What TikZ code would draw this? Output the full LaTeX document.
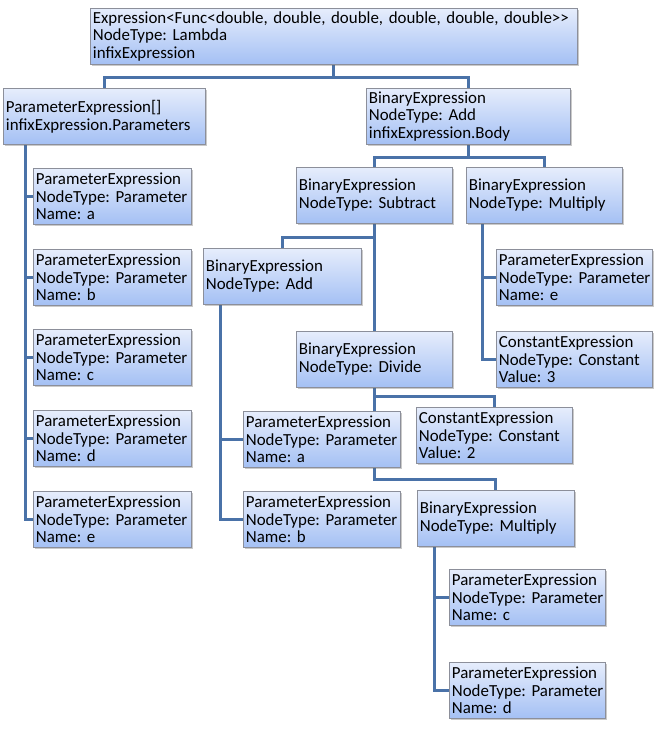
\documentclass[tikz,border=0pt]{standalone}
\usepackage{fontspec}
\setmainfont{Carlito}
\usepackage{xcolor}
\usepackage{tikz}
\usetikzlibrary{shadows, backgrounds}
\definecolor{boxtop}{HTML}{E6EDFC}
\definecolor{boxbottom}{HTML}{A4C0F4}
\definecolor{boxline}{HTML}{8C8F9A}
\definecolor{connblue}{HTML}{4A72A8}
\tikzstyle{exprbox} = [anchor=north west, draw=boxline, line width=0.8pt, top color=boxtop, bottom color=boxbottom,
    drop shadow={shadow xshift=2pt, shadow yshift=-2pt, opacity=0.35, fill=black!60},
    inner xsep=2.5pt, inner ysep=0pt, minimum height=56pt, align=left,
    font=\fontsize{16.9}{17.8}\selectfont]
\tikzstyle{conn} = [draw=connblue, line width=3pt]
\frenchspacing
\hyphenpenalty=10000
\exhyphenpenalty=10000
\hbadness=10000
\hfuzz=20pt

\begin{document}
\begin{tikzpicture}[line cap=butt,line join=miter,x=1pt,y=-1pt]
    \useasboundingbox (0,0) rectangle (658,731);
    % top levels
    \node[exprbox, text width=482pt] (root) at (90,8) {Expression<Func<double, double, double, double, double, double>{}>\\NodeType:~Lambda\\infixExpression};
    \node[exprbox, text width=197pt] (params) at (3,88) {ParameterExpression[]\\infixExpression.Parameters};
    \node[exprbox, text width=199pt] (body) at (366,88) {BinaryExpression\\NodeType:~Add\\infixExpression.Body};
    % parameter list
    \node[exprbox, text width=153pt] (pa) at (33,168) {ParameterExpression\\NodeType:~Parameter\\Name:~a};
    \node[exprbox, text width=153pt] (pb) at (33,249) {ParameterExpression\\NodeType:~Parameter\\Name:~b};
    \node[exprbox, text width=153pt] (pc) at (33,329) {ParameterExpression\\NodeType:~Parameter\\Name:~c};
    \node[exprbox, text width=153pt] (pd) at (33,410) {ParameterExpression\\NodeType:~Parameter\\Name:~d};
    \node[exprbox, text width=153pt] (pe) at (33,491) {ParameterExpression\\NodeType:~Parameter\\Name:~e};
    % body
    \node[exprbox, text width=151pt] (sub) at (296,167) {BinaryExpression\\NodeType:~Subtract};
    \node[exprbox, text width=151pt] (mul) at (466,167) {BinaryExpression\\NodeType:~Multiply};
    \node[exprbox, text width=151pt] (mul e) at (496,249) {ParameterExpression\\NodeType:~Parameter\\Name:~e};
    \node[exprbox, text width=151pt] (three) at (496,331) {ConstantExpression\\NodeType:~Constant\\Value:~3};
    \node[exprbox, text width=153pt] (add) at (203,248) {BinaryExpression\\NodeType:~Add};
    \node[exprbox, text width=151pt] (div) at (296,331) {BinaryExpression\\NodeType:~Divide};
    \node[exprbox, text width=152pt] (add a) at (243,411) {ParameterExpression\\NodeType:~Parameter\\Name:~a};
    \node[exprbox, text width=151pt] (two) at (416,407) {ConstantExpression\\NodeType:~Constant\\Value:~2};
    \node[exprbox, text width=152pt] (add b) at (243,491) {ParameterExpression\\NodeType:~Parameter\\Name:~b};
    \node[exprbox, text width=152pt] (mul2) at (417,490) {BinaryExpression\\NodeType:~Multiply};
    \node[exprbox, text width=151pt] (mul2 c) at (449,569) {ParameterExpression\\NodeType:~Parameter\\Name:~c};
    \node[exprbox, text width=151pt] (mul2 d) at (449,662) {ParameterExpression\\NodeType:~Parameter\\Name:~d};

    \begin{scope}[on background layer]
        \draw[conn] (root.south) -- ++(0,13) -| (params.north);
        \draw[conn] (root.south) -- ++(0,13) -| (body.north);
        \foreach \p in {pa,pb,pc,pd,pe}
            \draw[conn] ([xshift=22pt]params.south west) |- (\p.west);
        \draw[conn] (body.south) -- ++(0,13) -| (sub.north);
        \draw[conn] (body.south) -- ++(0,13) -| (mul.north);
        \draw[conn] (sub.south) -- ++(0,14) -| (add.north);
        \draw[conn] (sub.south) -- (div.north);
        \foreach \p in {mul e,three}
            \draw[conn] ([xshift=16pt]mul.south west) |- (\p.west);
        \foreach \p in {add a,add b}
            \draw[conn] ([xshift=17pt]add.south west) |- (\p.west);
        \draw[conn] (div.south) -- ++(0,9) -| (two.north);
        \draw[conn] (div.south) -- ++(0,92) -| (mul2.north);
        \foreach \p in {mul2 c,mul2 d}
            \draw[conn] ([xshift=17pt]mul2.south west) |- (\p.west);
    \end{scope}
\end{tikzpicture}
\end{document}
